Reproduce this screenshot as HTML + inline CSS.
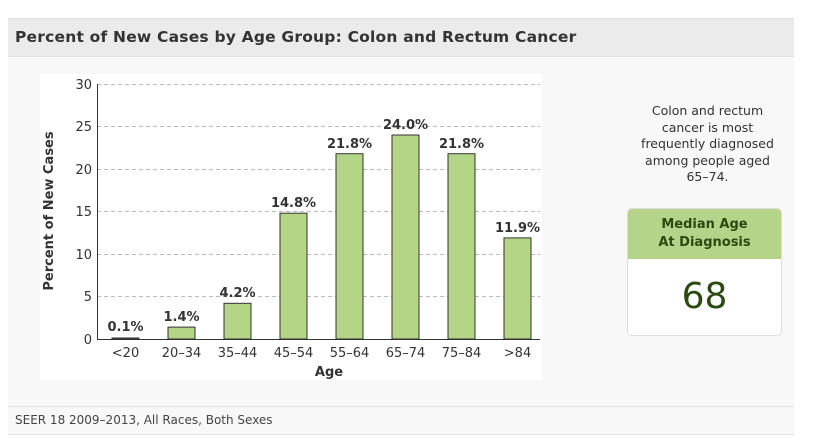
<!DOCTYPE html>
<html><head><style>
body{margin:0;width:813px;height:447px;background:#fff;font-family:"DejaVu Sans","Liberation Sans",sans-serif;overflow:hidden}
.panel{position:absolute;left:8px;top:18px;width:786px;height:415px;background:#f7f8f7;border-top:1px solid #e0e0e0}
.hdr{position:absolute;left:0;top:0;width:786px;height:37px;background:#ebebeb;border-bottom:1px solid #e2e2e2}
.hdr span{position:absolute;left:7px;top:9px;font-size:15.5px;color:#333;font-weight:bold;letter-spacing:0.2px}
.foot{position:absolute;left:0;top:387px;width:786px;height:27px;border-top:1px solid #e0e0e0;border-bottom:1px solid #e0e0e0}
.foot span{position:absolute;left:7px;top:6px;font-size:12px;color:#444}
.note{position:absolute;left:620px;top:103px;width:175px;text-align:center;font-size:12.5px;line-height:16.5px;color:#333}
.box{position:absolute;left:627px;top:208px;width:153px;height:126px;background:#fff;border:1px solid #ddd;border-radius:5px;overflow:hidden}
.box .t{height:50px;background:#b5d48a;text-align:center;font-weight:bold;font-size:13px;line-height:18px;color:#2a4a10;padding-top:7px;box-sizing:border-box}
.box .n{text-align:center;font-size:36px;color:#2a4a10;margin-top:17px}
</style></head><body>
<div class="panel"><div class="hdr"><span>Percent of New Cases by Age Group: Colon and Rectum Cancer</span></div>
<div class="foot"><span>SEER 18 2009–2013, All Races, Both Sexes</span></div></div>
<svg style="position:absolute;left:0;top:0" width="813" height="447" font-family="DejaVu Sans,Liberation Sans,sans-serif">
<rect x="40" y="74" width="502" height="306" fill="#fff"/>
<g stroke="#bbb" stroke-dasharray="4,3">
<line x1="97" x2="540" y1="84.5" y2="84.5"/><line x1="97" x2="540" y1="126.5" y2="126.5"/><line x1="97" x2="540" y1="169.5" y2="169.5"/><line x1="97" x2="540" y1="211.5" y2="211.5"/><line x1="97" x2="540" y1="254.5" y2="254.5"/><line x1="97" x2="540" y1="296.5" y2="296.5"/>
</g>
<g font-size="13" fill="#333" text-anchor="end">
<text x="92" y="89">30</text><text x="92" y="131">25</text><text x="92" y="174">20</text><text x="92" y="216">15</text><text x="92" y="259">10</text><text x="92" y="301">5</text><text x="92" y="344">0</text></g>
<text transform="translate(53,211) rotate(-90)" text-anchor="middle" font-size="13" font-weight="bold" fill="#333">Percent of New Cases</text>
<g fill="#b3d585" stroke="#333" stroke-width="1">
<rect x="112" y="338" width="27" height="1"/>
<rect x="168" y="327.1" width="27" height="11.9"/>
<rect x="224" y="303.3" width="27" height="35.7"/>
<rect x="280" y="213.2" width="27" height="125.8"/>
<rect x="336" y="153.7" width="27" height="185.3"/>
<rect x="392" y="135" width="27" height="204"/>
<rect x="448" y="153.7" width="27" height="185.3"/>
<rect x="504" y="237.9" width="27" height="101.1"/>
</g>
<line x1="97.5" x2="97.5" y1="84" y2="339" stroke="#333"/>
<line x1="97" x2="540" y1="339.5" y2="339.5" stroke="#333"/>
<g font-size="13" fill="#333" font-weight="bold" text-anchor="middle">
<text x="125.5" y="331">0.1%</text><text x="181.5" y="321">1.4%</text><text x="237.5" y="297">4.2%</text><text x="293.5" y="207">14.8%</text><text x="349.5" y="148">21.8%</text><text x="405.5" y="129">24.0%</text><text x="461.5" y="148">21.8%</text><text x="517.5" y="232">11.9%</text></g>
<g font-size="13" fill="#333" text-anchor="middle">
<text x="125.5" y="357">&lt;20</text><text x="181.5" y="357">20–34</text><text x="237.5" y="357">35–44</text><text x="293.5" y="357">45–54</text><text x="349.5" y="357">55–64</text><text x="405.5" y="357">65–74</text><text x="461.5" y="357">75–84</text><text x="517.5" y="357">&gt;84</text></g>
<text x="329" y="376" text-anchor="middle" font-size="13" font-weight="bold" fill="#333">Age</text>
</svg>
<div class="note">Colon and rectum<br>cancer is most<br>frequently diagnosed<br>among people aged<br>65–74.</div>
<div class="box"><div class="t">Median Age<br>At Diagnosis</div><div class="n">68</div></div>
</body></html>
